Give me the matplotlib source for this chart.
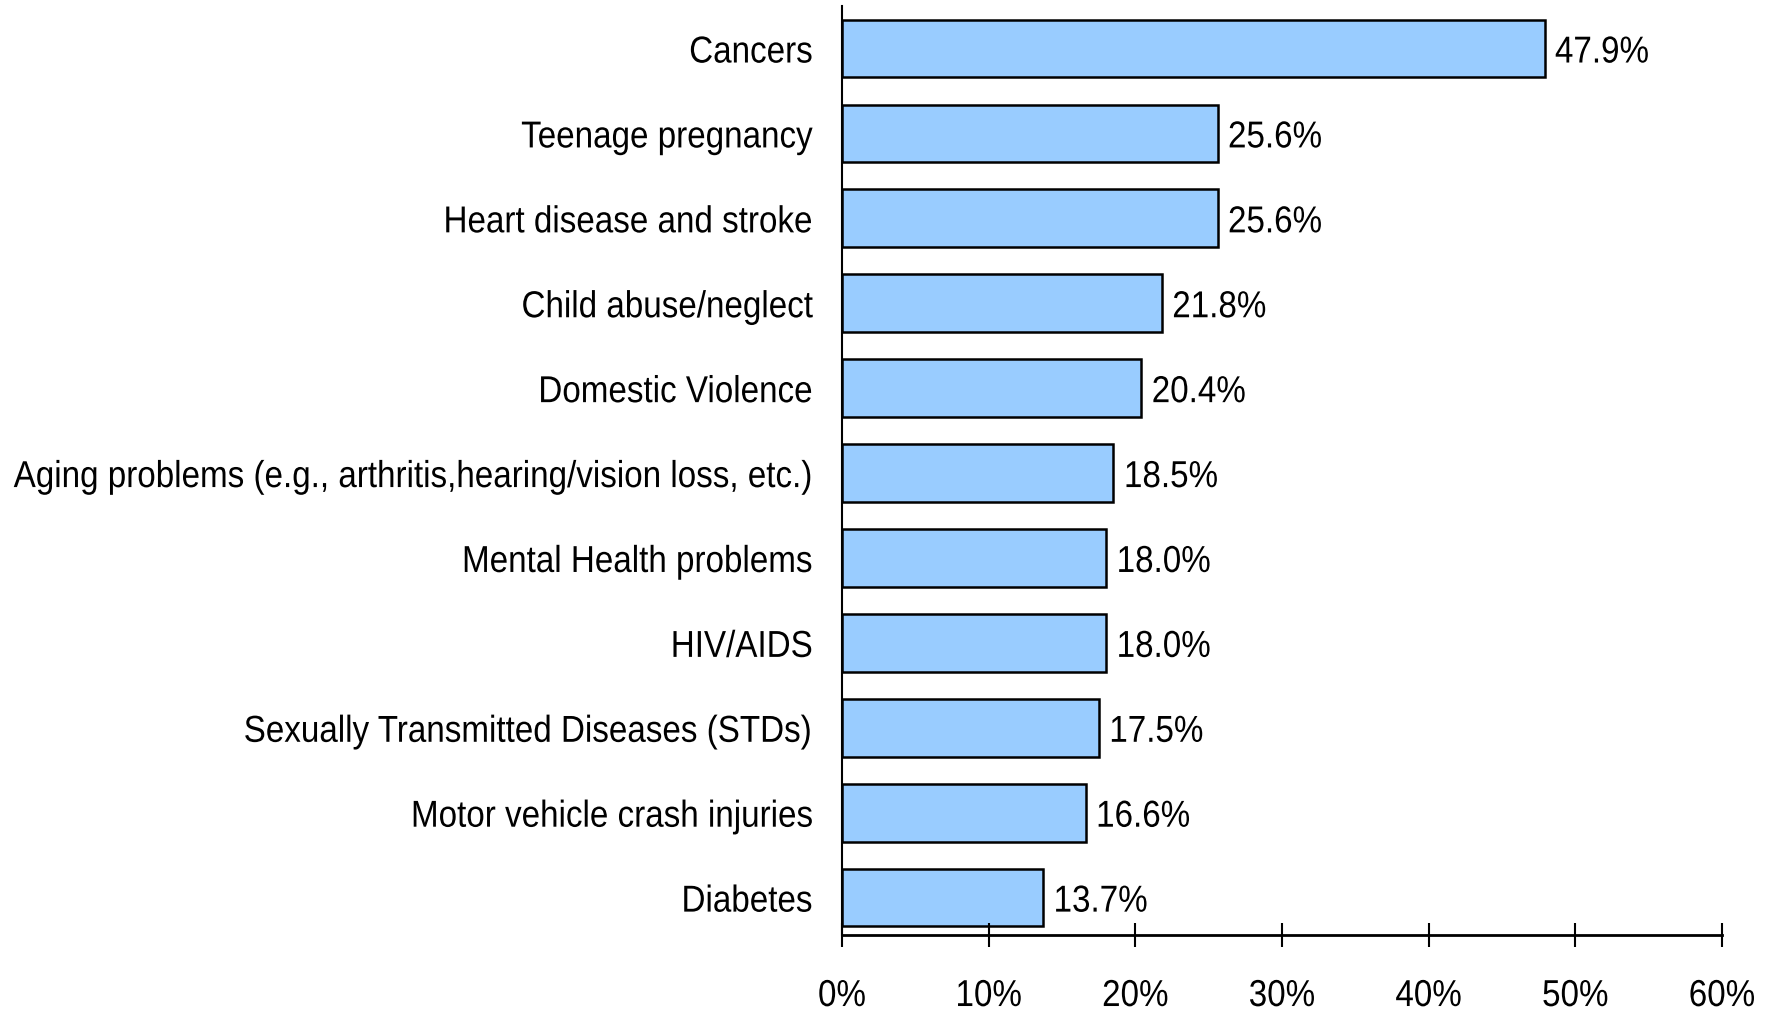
import matplotlib
matplotlib.use("Agg")
import matplotlib.pyplot as plt
import numpy as np
from matplotlib.patheffects import AbstractPathEffect
from matplotlib.transforms import Affine2D
from matplotlib.ticker import FuncFormatter

categories = [
    "Cancers",
    "Teenage pregnancy",
    "Heart disease and stroke",
    "Child abuse/neglect",
    "Domestic Violence",
    "Aging problems (e.g., arthritis,hearing/vision loss, etc.)",
    "Mental Health problems",
    "HIV/AIDS",
    "Sexually Transmitted Diseases (STDs)",
    "Motor vehicle crash injuries",
    "Diabetes",
]
values = [47.9, 25.6, 25.6, 21.8, 20.4, 18.5, 18.0, 18.0, 17.5, 16.6, 13.7]
x_ticks = [0, 10, 20, 30, 40, 50, 60]


class Condense(AbstractPathEffect):
    """squeeze text horizontally (the original uses a narrow Arial)"""

    def __init__(self, sx, anchor="left"):
        super().__init__()
        self.sx = sx
        self.anchor = anchor

    def draw_path(self, renderer, gc, tpath, affine, rgbFace=None):
        ext = tpath.get_extents(affine)
        a = {"left": ext.x0, "right": ext.x1, "center": (ext.x0 + ext.x1) / 2}[self.anchor]
        t = affine + Affine2D().translate(-a, 0).scale(self.sx, 1).translate(a, 0)
        renderer.draw_path(gc, tpath, t, rgbFace)


plt.rcParams["font.family"] = ["Liberation Sans", "DejaVu Sans"]
FS = 27
SX = 0.885

fig = plt.figure(figsize=(17.72, 10.11), dpi=100)
ax = fig.add_axes([0.4752, 0.0752, 0.9718 - 0.4752, 0.994 - 0.0752])

y = np.arange(len(categories))[::-1]
ax.barh(y, values, height=0.68, color="#99CCFF", edgecolor="black", linewidth=1.8)

for yi, v in zip(y, values):
    t = ax.text(v + 0.7, yi, "%.1f%%" % v, va="center_baseline", ha="left", fontsize=FS)
    t.set_path_effects([Condense(SX, "left")])

ax.set_yticks(y)
ax.set_yticklabels(categories, fontsize=FS)
ax.set_xticks(x_ticks)
ax.xaxis.set_major_formatter(FuncFormatter(lambda v, p: "%d%%" % v))
ax.set_xlim(0, 60)
ax.set_ylim(-0.44, 10.5)

for s in ["top", "right"]:
    ax.spines[s].set_visible(False)
ax.spines["left"].set_linewidth(1.5)
ax.spines["bottom"].set_linewidth(2.0)

ax.tick_params(axis="y", length=0, pad=21)
ax.tick_params(axis="x", direction="inout", length=17, width=1.5, pad=22.5, labelsize=FS)

for lab in ax.get_yticklabels():
    lab.set_path_effects([Condense(SX, "right")])
for lab in ax.get_xticklabels():
    lab.set_path_effects([Condense(SX, "center")])

fig.savefig("out.png", dpi=100)
